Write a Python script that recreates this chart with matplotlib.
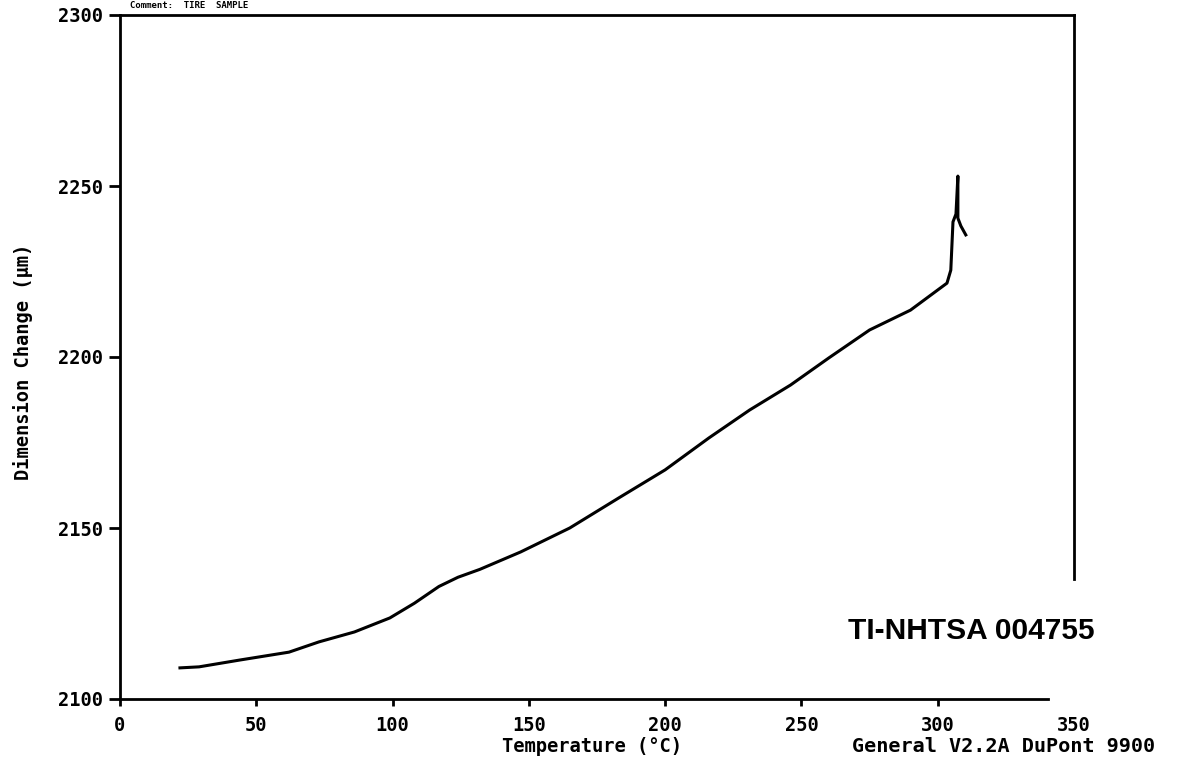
import matplotlib
matplotlib.use("Agg")
import matplotlib.pyplot as plt

# TMA trace: dimension change vs temperature
temp_c = [22, 29, 44, 62, 73, 86, 99, 108, 117, 124, 132, 147, 165, 183,
          200, 216, 231, 246, 260, 275, 290, 303.4, 304.8, 305.6, 306.7,
          307.4, 307.4, 308.5, 310.3]
dim_um = [2109.1, 2109.4, 2111.4, 2113.7, 2116.7, 2119.6, 2123.7, 2128.0,
          2132.9, 2135.6, 2137.9, 2143.0, 2150.0, 2158.8, 2167.0, 2176.3,
          2184.5, 2191.8, 2199.7, 2207.9, 2213.7, 2221.6, 2225.4, 2239.5,
          2241.8, 2252.9, 2240.6, 2238.3, 2235.7]

x_ticks = [0, 50, 100, 150, 200, 250, 300, 350]
y_ticks = [2100, 2150, 2200, 2250, 2300]

W, H = 1179, 759
mono = {"family": "DejaVu Sans Mono", "weight": "bold", "size": 13.5}

fig = plt.figure(figsize=(W / 100, H / 100), dpi=100)
ax = fig.add_axes([120 / W, 1 - 699 / H, (1074 - 120) / W, (699 - 15) / H])

ax.plot(temp_c, dim_um, color="black", linewidth=2.2, solid_joinstyle="round")

ax.set_xlim(0, 350)
ax.set_ylim(2100, 2300)
ax.set_xticks(x_ticks)
ax.set_yticks(y_ticks)
ax.set_xticklabels([str(t) for t in x_ticks], fontdict=mono)
ax.set_yticklabels([str(t) for t in y_ticks], fontdict=mono)
ax.tick_params(axis="x", direction="out", length=5, width=2, pad=7)
ax.tick_params(axis="y", direction="out", length=8, width=2, pad=4)
# bottom axis stops short of 350, so that tick has no mark
ax.xaxis.get_major_ticks()[-1].tick1line.set_visible(False)

for side in ["top", "bottom", "left", "right"]:
    ax.spines[side].set_linewidth(2)
ax.spines["bottom"].set_bounds(0, 340.5)
ax.spines["right"].set_bounds(2135, 2300)

fig.text(592 / W, 1 - 746 / H, "Temperature (°C)", ha="center", va="center",
         fontdict=mono)
fig.text(23 / W, 1 - 362 / H, "Dimension Change (µm)", ha="center",
         va="center", rotation=90, fontdict=mono)
fig.text(852 / W, 1 - 746 / H, "General V2.2A DuPont 9900", ha="left",
         va="center", family="DejaVu Sans Mono", weight="bold", size=14.5)
fig.text(130 / W, 1 - 1 / H, "Comment:  TIRE  SAMPLE", ha="left",
         va="top", family="DejaVu Sans Mono", weight="bold", size=6.5)

fig.text(848 / W, 1 - 631 / H, "TI-NHTSA 004755", ha="left", va="center",
         family="Liberation Sans", weight="bold", size=21.5)

fig.savefig("out.png", dpi=100)
